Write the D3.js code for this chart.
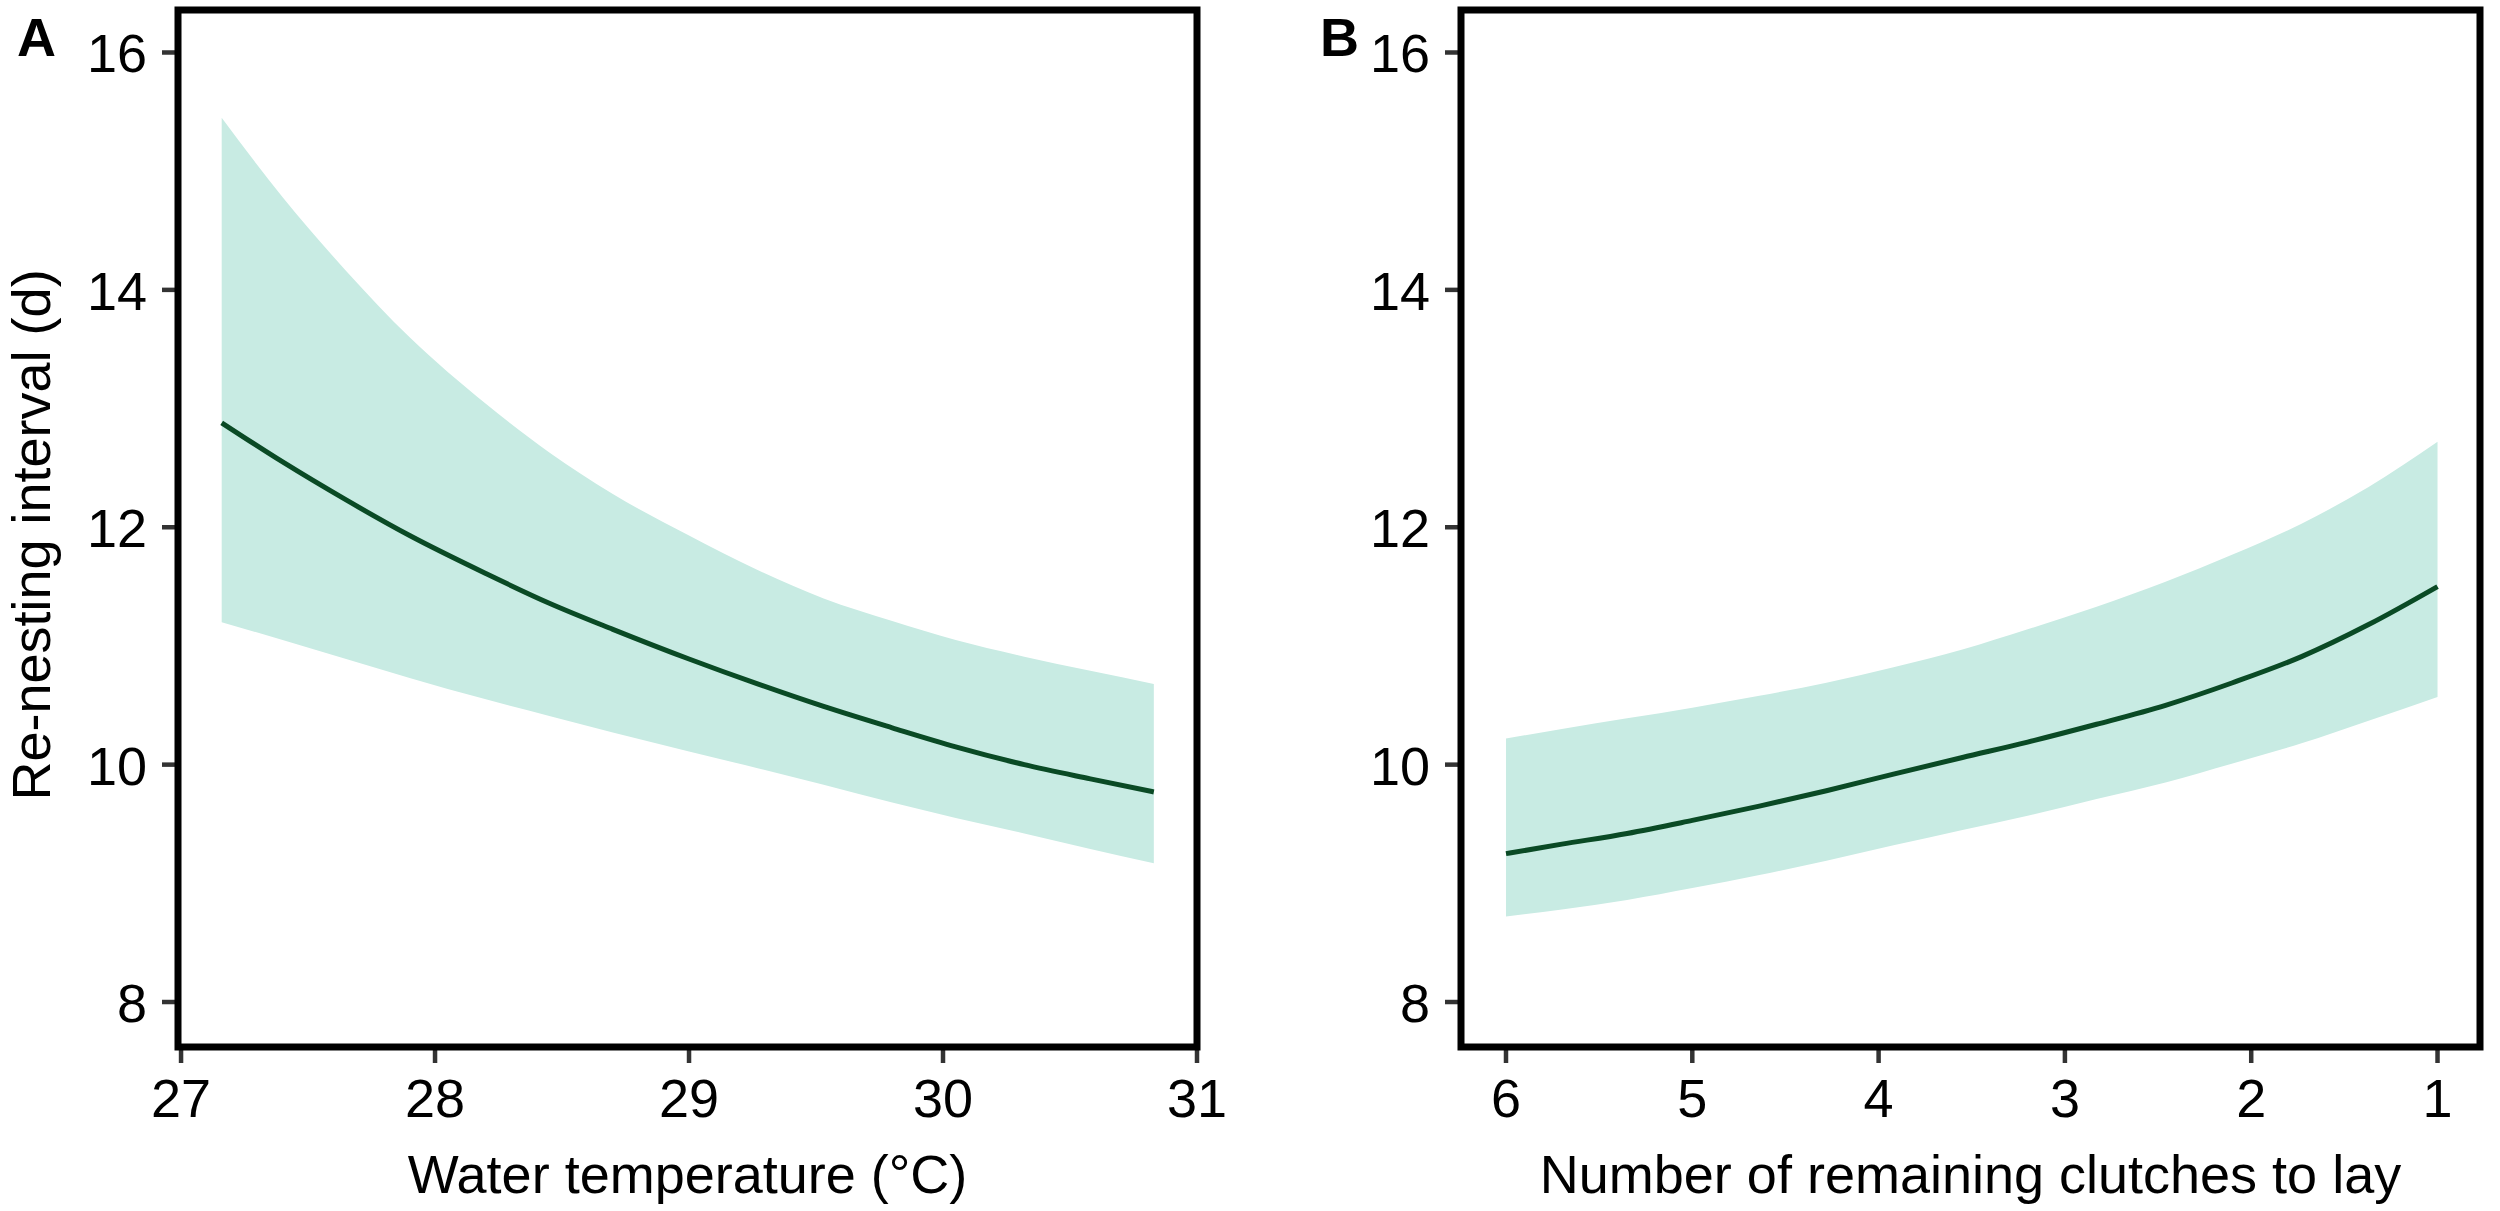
<!DOCTYPE html>
<html>
<head>
<meta charset="utf-8">
<script src="https://cdn.jsdelivr.net/npm/d3@7"></script>
<style>
  body { margin: 0; background: #fff; }
  text { font-family: "Liberation Sans", Arial, sans-serif; fill: #000; }
</style>
</head>
<body>
<div id="chart"></div>
<script>
let width = 2500;
let height = 1211;

// panel A: water temperature
let tempX     = [27.16, 27.4, 27.65, 27.9, 28.2, 28.45, 28.7, 29.0, 29.27, 29.53, 29.8, 30.05, 30.32, 30.58, 30.83];
let tempFit   = [12.88, 12.55, 12.23, 11.93, 11.61, 11.36, 11.14, 10.89, 10.68, 10.49, 10.31, 10.15, 10.00, 9.88, 9.77];
let tempLower = [11.20, 11.05, 10.89, 10.73, 10.55, 10.41, 10.27, 10.11, 9.97, 9.83, 9.68, 9.55, 9.42, 9.29, 9.17];
let tempUpper = [15.45, 14.78, 14.16, 13.60, 13.04, 12.63, 12.28, 11.93, 11.64, 11.40, 11.21, 11.05, 10.91, 10.79, 10.68];

// panel B: remaining clutches
let clutchX     = [6, 5.7, 5.35, 5.0, 4.64, 4.28, 3.92, 3.55, 3.2, 2.83, 2.46, 2.1, 1.73, 1.37, 1.0];
let clutchFit   = [9.25, 9.33, 9.42, 9.53, 9.65, 9.78, 9.92, 10.06, 10.19, 10.34, 10.50, 10.69, 10.91, 11.18, 11.50];
let clutchLower = [8.72, 8.78, 8.86, 8.96, 9.07, 9.19, 9.32, 9.45, 9.57, 9.71, 9.85, 10.01, 10.18, 10.37, 10.57];
let clutchUpper = [10.22, 10.30, 10.39, 10.48, 10.58, 10.69, 10.82, 10.97, 11.14, 11.33, 11.54, 11.77, 12.03, 12.34, 12.72];

let yTicks = [8, 10, 12, 14, 16];
let tempTicks = [27, 28, 29, 30, 31];
let clutchTicks = [6, 5, 4, 3, 2, 1];

let svg = d3.select('#chart')
  .append('svg')
  .attr('width', width)
  .attr('height', height);

let plotTop = 10, plotBottom = 1047;

let y = d3.scaleLinear()
  .domain([7.621, 16.358])
  .range([plotBottom, plotTop]);

function drawPanel(opts) {
  let x = d3.scaleLinear().domain(opts.domain).range([opts.left, opts.right]);
  let g = svg.append('g');

  let rows = opts.xs.map(function(v, i) {
    return { x: v, fit: opts.fit[i], lo: opts.lower[i], hi: opts.upper[i] };
  });

  let area = d3.area()
    .x(function(d) { return x(d.x); })
    .y0(function(d) { return y(d.lo); })
    .y1(function(d) { return y(d.hi); })
    .curve(d3.curveMonotoneX);

  let line = d3.line()
    .x(function(d) { return x(d.x); })
    .y(function(d) { return y(d.fit); })
    .curve(d3.curveMonotoneX);

  g.append('path')
    .datum(rows)
    .attr('d', area)
    .attr('fill', '#c8ebe3');

  g.append('path')
    .datum(rows)
    .attr('d', line)
    .attr('fill', 'none')
    .attr('stroke', '#0a4a25')
    .attr('stroke-width', 5);

  // ticks
  g.selectAll('.ytick')
    .data(yTicks)
    .enter()
    .append('line')
    .attr('x1', opts.left - 16)
    .attr('x2', opts.left)
    .attr('y1', function(d) { return y(d); })
    .attr('y2', function(d) { return y(d); })
    .attr('stroke', '#333')
    .attr('stroke-width', 4.5);

  g.selectAll('.ylab')
    .data(yTicks)
    .enter()
    .append('text')
    .attr('x', opts.left - 31)
    .attr('y', function(d) { return y(d) + 20; })
    .attr('text-anchor', 'end')
    .style('font-size', '54px')
    .text(function(d) { return d; });

  g.selectAll('.xtick')
    .data(opts.ticks)
    .enter()
    .append('line')
    .attr('x1', function(d) { return x(d); })
    .attr('x2', function(d) { return x(d); })
    .attr('y1', plotBottom)
    .attr('y2', plotBottom + 16)
    .attr('stroke', '#333')
    .attr('stroke-width', 4.5);

  g.selectAll('.xlab')
    .data(opts.ticks)
    .enter()
    .append('text')
    .attr('x', function(d) { return x(d); })
    .attr('y', 1117)
    .attr('text-anchor', 'middle')
    .style('font-size', '54px')
    .text(function(d) { return d; });

  g.append('rect')
    .attr('x', opts.left)
    .attr('y', plotTop)
    .attr('width', opts.right - opts.left)
    .attr('height', plotBottom - plotTop)
    .attr('fill', 'none')
    .attr('stroke', '#000')
    .attr('stroke-width', 7);

  g.append('text')
    .attr('x', (opts.left + opts.right) / 2)
    .attr('y', 1193)
    .attr('text-anchor', 'middle')
    .style('font-size', '54px')
    .text(opts.title);

  g.append('text')
    .attr('x', opts.tagX)
    .attr('y', 56)
    .style('font-size', '54px')
    .style('font-weight', 'bold')
    .text(opts.tag);
}

drawPanel({
  left: 178, right: 1197, domain: [26.988, 31.0],
  xs: tempX, fit: tempFit, lower: tempLower, upper: tempUpper,
  ticks: tempTicks, title: 'Water temperature (°C)', tag: 'A', tagX: 17
});

drawPanel({
  left: 1461, right: 2480, domain: [6.2415, 0.772],
  xs: clutchX, fit: clutchFit, lower: clutchLower, upper: clutchUpper,
  ticks: clutchTicks, title: 'Number of remaining clutches to lay', tag: 'B', tagX: 1320
});

svg.append('text')
  .attr('transform', 'translate(50,' + 535 + ') rotate(-90)')
  .attr('text-anchor', 'middle')
  .style('font-size', '54px')
  .text('Re-nesting interval (d)');
</script>
</body>
</html>
